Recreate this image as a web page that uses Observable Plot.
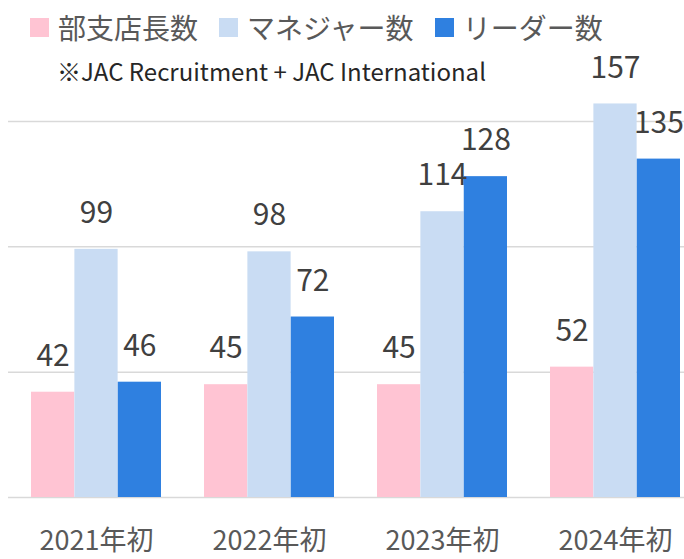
<!DOCTYPE html>
<html><head><meta charset="utf-8">
<script src="https://cdn.jsdelivr.net/npm/d3@7"></script>
<script src="https://cdn.jsdelivr.net/npm/@observablehq/plot@0.6"></script>
<style>
body{margin:0;background:#fff;width:684px;height:559px;overflow:hidden;font-family:"Noto Sans CJK JP",sans-serif;}
#header{position:relative;height:86px;}
.legend{position:absolute;left:30px;top:0;height:54px;display:flex;align-items:center;font-size:28px;color:#595959;white-space:nowrap;}
.item{display:flex;align-items:center;margin-right:21px;}
.sw{width:19px;height:19px;margin-right:9px;flex:none;}
.note{position:absolute;left:57px;top:70px;transform:translateY(-50%);font-size:24px;color:#262626;white-space:nowrap;}
#chart svg{overflow:visible;display:block;}
</style></head>
<body>
<div id="header"><div class="legend" id="legend"></div><div class="note" id="note"></div></div>
<div id="chart"></div>
<script>
// ---- data ----
const years = ["2021年初", "2022年初", "2023年初", "2024年初"];
const seriesNames = ["部支店長数", "マネジャー数", "リーダー数"];
const branchManagers = [42, 45, 45, 52];
const managers = [99, 98, 114, 157];
const leaders = [46, 72, 128, 135];
const gridValues = [0, 50, 100, 150];
const noteText = "※JAC Recruitment + JAC International";

// ---- styles ----
const palette = ["#FFC4D3", "#C9DCF3", "#2F80E0"];

const values = [branchManagers, managers, leaders];
const table = seriesNames.flatMap((s, i) => years.map((y, j) => ({year: y, series: s, value: values[i][j]})));

// legend
const lg = document.getElementById("legend");
seriesNames.forEach((s, i) => {
  const it = document.createElement("div"); it.className = "item";
  const sw = document.createElement("div"); sw.className = "sw"; sw.style.background = palette[i];
  const tx = document.createElement("span"); tx.textContent = s;
  it.appendChild(sw); it.appendChild(tx); lg.appendChild(it);
});
document.getElementById("note").textContent = noteText;

const xRange = [8, 702], pi = 0.25, po = 0.125;
const step = (xRange[1] - xRange[0]) / (years.length - pi + 2 * po);
const bw = step * (1 - pi);
const n = seriesNames.length;
const sub = bw / n;

const chart = Plot.plot({
  width: 684,
  height: 473,
  marginLeft: 8,
  marginRight: 0,
  marginTop: 0,
  marginBottom: 62,
  style: {fontFamily: '"Noto Sans CJK JP", sans-serif', background: "transparent", overflow: "visible"},
  x: {type: "band", domain: years, range: xRange, paddingInner: pi, paddingOuter: po, label: null},
  y: {domain: [0, 150], range: [411, 35], axis: null},
  color: {domain: seriesNames, range: palette},
  marks: [
    Plot.ruleY(gridValues, {stroke: "#d9d9d9", strokeWidth: 1.5}),
    ...seriesNames.map((s, i) => Plot.barY(table.filter(d => d.series === s), {
      x: "year", y: "value", fill: "series",
      insetLeft: i * sub, insetRight: (n - 1 - i) * sub
    })),
    ...seriesNames.map((s, i) => Plot.text(table.filter(d => d.series === s), {
      x: "year", y: "value", text: d => String(d.value),
      dx: (i - (n - 1) / 2) * sub, dy: -36, fontSize: 30, fill: "#404040"
    })),
    Plot.axisX({tickSize: 0, tickPadding: 33, fontSize: 27, color: "#595959", label: null})
  ]
});
document.getElementById("chart").appendChild(chart);
</script>
</body></html>
